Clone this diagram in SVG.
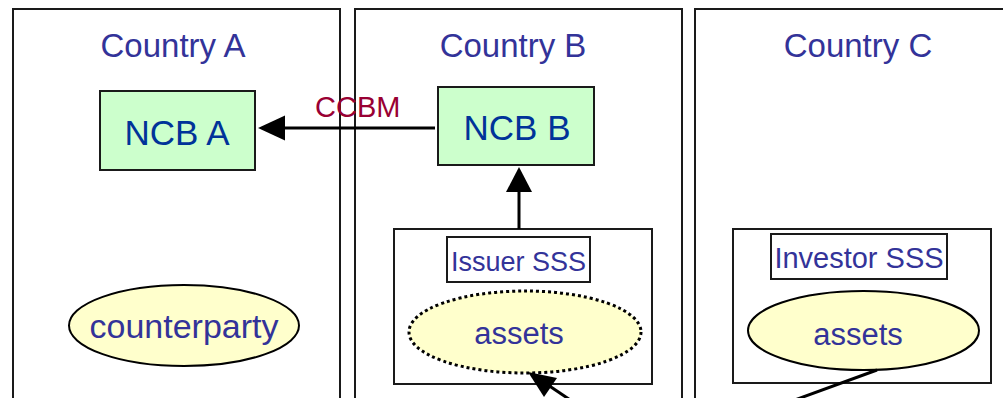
<svg xmlns="http://www.w3.org/2000/svg" width="1003" height="398" viewBox="0 0 1003 398">
<defs>
<style>
.country{fill:none;stroke:#1a1a1a;stroke-width:2}
.title{font-family:"Liberation Sans",Arial,sans-serif;font-size:33px;fill:#333399;text-anchor:middle}
.ncb{fill:#ccffcc;stroke:#1a1a1a;stroke-width:2}
.ncbt{font-family:"Liberation Sans",Arial,sans-serif;font-size:35px;fill:#003399;text-anchor:middle}
.sss{fill:none;stroke:#1a1a1a;stroke-width:2}
.lbl{fill:#ffffff;stroke:#1a1a1a;stroke-width:2}
.lt{font-family:"Liberation Sans",Arial,sans-serif;font-size:29px;fill:#333399;text-anchor:middle}
.ell{fill:#ffffcc;stroke:#000;stroke-width:2}
.dot{fill:#ffffcc;stroke:#000;stroke-width:3;stroke-dasharray:3 3}
.et{font-family:"Liberation Sans",Arial,sans-serif;font-size:31px;fill:#333399;text-anchor:middle}
.conn{stroke:#000;stroke-width:3;fill:none}
.ccbm{font-family:"Liberation Sans",Arial,sans-serif;font-size:29px;fill:#990033}
</style>
</defs>
<rect width="1003" height="398" fill="#ffffff"/>
<g id="countryA">
<rect class="country" x="13" y="9" width="327" height="400"/>
<text class="title" x="173" y="57">Country A</text>
</g>
<g id="countryB">
<rect class="country" x="355" y="9" width="327" height="400"/>
<text class="title" x="513" y="57">Country B</text>
</g>
<g id="countryC">
<rect class="country" x="695" y="9" width="330" height="400"/>
<text class="title" x="858" y="57">Country C</text>
</g>
<g id="ncbA">
<rect class="ncb" x="100" y="91" width="155" height="79"/>
<text class="ncbt" x="177" y="145">NCB A</text>
</g>
<g id="ncbB">
<rect class="ncb" x="438" y="87" width="156" height="78"/>
<text class="ncbt" x="517" y="140">NCB B</text>
</g>
<g id="issuerSSS">
<rect class="sss" x="394" y="229" width="258" height="155"/>
<rect class="lbl" x="447" y="237" width="143" height="45"/>
<text class="lt" x="518.5" y="271" style="font-size:27px">Issuer SSS</text>
</g>
<g id="issuerAssets">
<ellipse class="dot" cx="525" cy="332" rx="116" ry="41"/>
<text class="et" x="519" y="344">assets</text>
</g>
<g id="investorSSS">
<rect class="sss" x="733" y="229" width="258" height="154"/>
<rect class="lbl" x="771" y="234" width="176" height="45"/>
<text class="lt" x="859" y="268">Investor SSS</text>
</g>
<g id="investorAssets">
<ellipse class="ell" cx="863.5" cy="330.5" rx="115.5" ry="39.5"/>
<text class="et" x="858" y="345">assets</text>
</g>
<g id="counterparty">
<ellipse class="ell" cx="184" cy="325.5" rx="115" ry="40.5"/>
<text class="et" x="184" y="338" style="font-size:34px">counterparty</text>
</g>
<g id="connectors">
<line class="conn" x1="435" y1="128" x2="283" y2="128"/>
<path d="M258,128 L285,115.5 L285,140.5 z" fill="#000"/>
<text class="ccbm" x="315" y="117">CCBM</text>
<line class="conn" x1="519" y1="229" x2="519" y2="190"/>
<path d="M519,167 L532,192 L506,192 z" fill="#000"/>
<line class="conn" x1="600" y1="420" x2="548" y2="385"/>
<path d="M528,372 L557,378 L544,397 z" fill="#000"/>
<line class="conn" x1="877" y1="370" x2="740" y2="420"/>
</g>
</svg>
